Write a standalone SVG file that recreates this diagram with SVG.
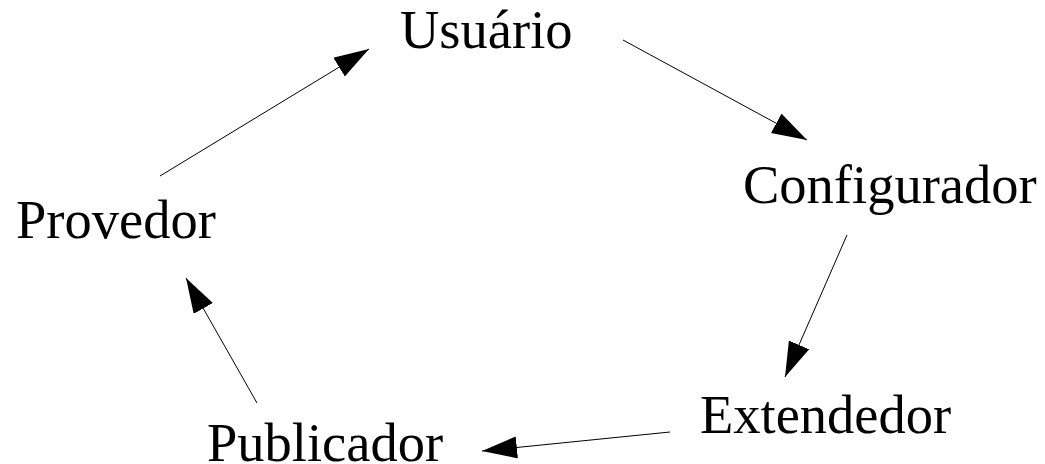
<svg xmlns="http://www.w3.org/2000/svg" width="1045" height="464" viewBox="0 0 1045 464">
  <style>
    .label { font-family: "Liberation Serif", "Times New Roman", serif; font-size: 54.5px; fill: #000; }
    .edge { stroke: #000; stroke-width: 1; fill: none; marker-end: url(#head); }
  </style>
  <defs>
    <marker id="head" markerUnits="userSpaceOnUse" markerWidth="36" markerHeight="24" refX="35" refY="11" orient="auto">
      <path d="M0,0 L35,11 L0,22 Z" fill="#000"/>
    </marker>
  </defs>
  <rect width="1045" height="464" fill="#fff"/>

  <g id="connectors">
    <line class="edge" x1="160" y1="176" x2="369" y2="49"/>
    <line class="edge" x1="623" y1="40" x2="807" y2="140"/>
    <line class="edge" x1="847" y1="235" x2="785" y2="377"/>
    <line class="edge" x1="670" y1="432" x2="482" y2="451"/>
    <line class="edge" x1="257" y1="403" x2="186" y2="278"/>
  </g>

  <g id="usuario"><text class="label" x="400" y="48">Usuário</text></g>
  <g id="configurador"><text class="label" x="743" y="203">Configurador</text></g>
  <g id="extendedor"><text class="label" x="700" y="433">Extendedor</text></g>
  <g id="publicador"><text class="label" x="207" y="461">Publicador</text></g>
  <g id="provedor"><text class="label" x="16" y="238">Provedor</text></g>
</svg>
